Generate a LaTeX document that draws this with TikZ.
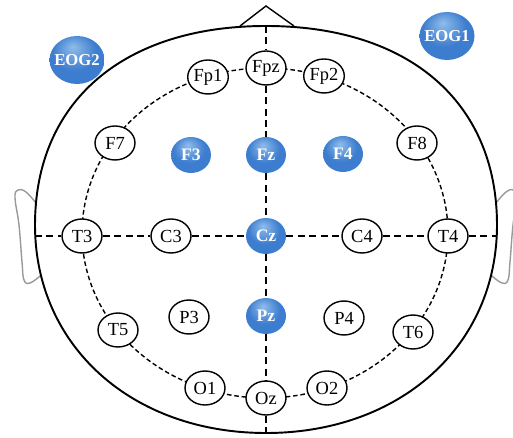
\documentclass[tikz,border=0pt]{standalone}
\usepackage{fontspec}
\setmainfont{Liberation Serif}
\usepackage{xcolor}
\definecolor{eegblue}{rgb}{0.24, 0.49, 0.81}
\definecolor{eeglight}{rgb}{0.56, 0.74, 0.92}
\definecolor{eegdark}{rgb}{0.17, 0.38, 0.68}
\definecolor{eargray}{rgb}{0.6, 0.6, 0.6}
\usepackage{tikz}
\usetikzlibrary{calc}
\usetikzlibrary{shapes.geometric, positioning}
\pgfdeclareradialshading{eegball}{\pgfpoint{-4bp}{14bp}}{%
	color(0bp)=(eeglight); color(20bp)=(eegblue); color(36bp)=(eegblue); color(50bp)=(eegdark)}

\begin{document}
\begin{tikzpicture}[x=0.02cm, y=-0.02cm]
	% ------------------------------------------------------------------
	% STYLE DEFINITIONS
	% ------------------------------------------------------------------
	\tikzset{
		elec/.style   = {ellipse, draw, thick, fill=white, minimum width=0.8cm,
			minimum height=0.68cm, inner sep=0pt, font=\fontsize{10.5}{12}\selectfont},
		act/.style    = {ellipse, shading=eegball, minimum width=0.8cm,
			minimum height=0.72cm, inner sep=0pt, text=white,
			font=\fontsize{10}{12}\selectfont\bfseries},
		eog/.style    = {act, minimum width=1.1cm, minimum height=0.96cm,
			font=\fontsize{9.5}{12}\selectfont\bfseries},
		headline/.style = {line width=1.1pt, black},
		earline/.style  = {thick, eargray},
		axisdash/.style = {thick, dash pattern=on 4pt off 2.5pt},
		ringdash/.style = {thick, dash pattern=on 2.6pt off 1.6pt}
	}
	\useasboundingbox (0,0) rectangle (513,438);
	
	% --- Ears ---
	\draw[earline] plot[smooth, tension=0.7] coordinates
		{(36,203) (26,192) (18,190) (15,198) (19,225) (22,262) (24,280) (30,283) (40,276)};
	\draw[earline] plot[smooth, tension=0.7] coordinates
		{(496,203) (506,192) (514,190) (517,198) (513,225) (510,262) (508,280) (502,283) (492,276)};
	
	% --- Head and nose ---
	\draw[headline, fill=white] (35,225) .. controls (35,102) and (123,26) .. (266,26)
		.. controls (409,26) and (497,102) .. (497,225)
		.. controls (497,346) and (400,433) .. (266,433)
		.. controls (132,433) and (35,346) .. cycle;
	\draw[thick] (240,26) -- (266,6) -- (294,26);
	
	% --- Dashed ring (10-20 outer line) ---
	\draw[ringdash] (265,233) ellipse [x radius=3.66cm, y radius=3.3cm];
	
	% --- Electrodes on the ring ---
	\node[elec] (Fpz) at (266,68)  {Fpz};
	\node[elec] (Fp1) at (208,77)  {Fp1};
	\node[elec] (Fp2) at (324,76)  {Fp2};
	\node[elec] (F7)  at (115,143) {F7};
	\node[elec] (F8)  at (417,143) {F8};
	\node[elec] (T3)  at (82,236)  {T3};
	\node[elec] (T4)  at (448,236) {T4};
	\node[elec] (T5)  at (118,330) {T5};
	\node[elec] (T6)  at (413,332) {T6};
	\node[elec] (O1)  at (205,388) {O1};
	\node[elec] (O2)  at (327,388) {O2};
	\node[elec] (Oz)  at (266,398) {Oz};
	
	% --- Inner electrodes ---
	\node[elec] (C3) at (171,236) {C3};
	\node[elec] (C4) at (362,236) {C4};
	\node[elec] (P3) at (189,317) {P3};
	\node[elec] (P4) at (344,318) {P4};
	
	% --- Recorded channels (blue) ---
	\node[act] (F3) at (191,155) {\makebox[0pt]{F3}};
	\node[act] (Fz) at (266,155) {\makebox[0pt]{Fz}};
	\node[act] (F4) at (343,154) {\makebox[0pt]{F4}};
	\node[act] (Cz) at (266,236) {\makebox[0pt]{Cz}};
	\node[act] (Pz) at (266,316) {\makebox[0pt]{Pz}};
	\node[eog] (EOG2) at (77,60) {\makebox[0pt]{EOG2}};
	\node[eog] (EOG1) at (447,36) {\makebox[0pt]{EOG1}};
	
	% --- Midline and coronal line ---
	\coordinate (nose) at (266,26);
	\coordinate (chin) at (266,438);
	\coordinate (lear) at (35,236);
	\coordinate (rear) at (497,236);
	\draw[axisdash] (nose) -- (Fpz) -- (Fz) -- (Cz) -- (Pz) -- (Oz) -- (chin);
	\draw[axisdash] (lear) -- (T3) -- (C3) -- (Cz) -- (C4) -- (T4) -- (rear);
	
\end{tikzpicture}
\end{document}
